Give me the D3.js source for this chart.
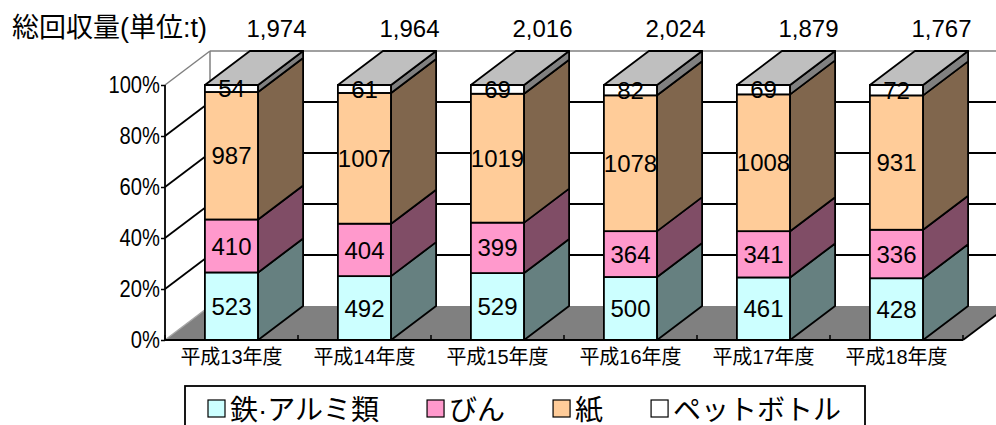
<!DOCTYPE html>
<html>
<head>
<meta charset="utf-8">
<style>
  html, body { margin: 0; padding: 0; background: #fff; }
  svg { display: block; }
  text { font-family: "Liberation Sans", "Noto Sans CJK JP", sans-serif; fill: #000; }
</style>
</head>
<body>
<svg id="chart" width="996" height="425"></svg>
<script src="https://cdn.jsdelivr.net/npm/d3@7"></script>
<script>
// data (tonnes)
var years   = ["平成13年度", "平成14年度", "平成15年度", "平成16年度", "平成17年度", "平成18年度"];
var metal   = [523, 492, 529, 500, 461, 428];
var glass   = [410, 404, 399, 364, 341, 336];
var paper   = [987, 1007, 1019, 1078, 1008, 931];
var pet     = [54, 61, 69, 82, 69, 72];
var seriesNames  = ["鉄·アルミ類", "びん", "紙", "ペットボトル"];
var seriesColors = ["#CCFFFF", "#FF99CC", "#FFCC99", "#FFFFFF"];
var yTicks = [0, 0.2, 0.4, 0.6, 0.8, 1];

var rows = years.map(function(y, i) {
  return {year: y, "鉄·アルミ類": metal[i], "びん": glass[i], "紙": paper[i], "ペットボトル": pet[i]};
});

var svg = d3.select("#chart");

var plotLeft = 165, plotRight = 963, plotTop = 85, plotBottom = 340;
var dx = 45, dy = -34;   // depth of the 3d box

var x = d3.scaleBand().domain(years).range([plotLeft, plotRight]).paddingInner(0.6).paddingOuter(0.3);
var y = d3.scaleLinear().domain([0, 1]).range([plotBottom, plotTop]);
var color = d3.scaleOrdinal().domain(seriesNames).range(seriesColors);

function shade(c, k) {
  var r = d3.rgb(c);
  return d3.rgb(r.r * k, r.g * k, r.b * k).formatHex();
}

var stack = d3.stack().keys(seriesNames).offset(d3.stackOffsetExpand);
var layers = stack(rows);

// walls and floor
var walls = svg.append("g");
walls.append("polygon")
  .attr("points", [[plotLeft + dx, y(1) + dy], [1020, y(1) + dy], [1020, y(0) + dy], [plotLeft + dx, y(0) + dy]].join(" "))
  .attr("fill", "#fff");
walls.append("polygon")
  .attr("points", [[plotLeft, y(0)], [plotRight, y(0)], [plotRight + dx, y(0) + dy], [plotLeft + dx, y(0) + dy]].join(" "))
  .attr("fill", "#808080");
walls.append("line")
  .attr("x1", plotLeft).attr("y1", y(0)).attr("x2", plotLeft + dx).attr("y2", y(0) + dy)
  .attr("stroke", "#a6a6a6").attr("stroke-width", 1.5);
walls.append("line")
  .attr("x1", plotLeft).attr("y1", y(1)).attr("x2", plotLeft + dx).attr("y2", y(1) + dy)
  .attr("stroke", "#808080").attr("stroke-width", 1.5);
walls.append("line")
  .attr("x1", plotLeft + dx).attr("y1", y(1) + dy).attr("x2", 1000).attr("y2", y(1) + dy)
  .attr("stroke", "#808080").attr("stroke-width", 1.5);
walls.append("line")
  .attr("x1", plotLeft + dx).attr("y1", y(1) + dy).attr("x2", plotLeft + dx).attr("y2", y(0) + dy)
  .attr("stroke", "#808080").attr("stroke-width", 1.5);

// gridlines
var grid = svg.append("g").attr("stroke", "#000").attr("stroke-width", 1.8);
yTicks.filter(function(t) { return t > 0 && t < 1; }).forEach(function(t) {
  grid.append("line")
    .attr("x1", plotLeft).attr("y1", y(t)).attr("x2", plotLeft + dx).attr("y2", y(t) + dy);
  grid.append("line")
    .attr("x1", plotLeft + dx).attr("y1", y(t) + dy).attr("x2", 1000).attr("y2", y(t) + dy);
});

// floor front right edge
svg.append("line")
  .attr("x1", plotRight).attr("y1", y(0)).attr("x2", plotRight + dx).attr("y2", y(0) + dy)
  .attr("stroke", "#000").attr("stroke-width", 1.8);

// bars
var bw = x.bandwidth();
years.forEach(function(yr, i) {
  var g = svg.append("g");
  var x0 = x(yr), x1 = x0 + bw;
  layers.forEach(function(layer, li) {
    var d = layer[i];
    var y0 = y(d[0]), y1 = y(d[1]);
    var c = color(layer.key);
    g.append("rect")
      .attr("x", x0).attr("y", y1).attr("width", bw).attr("height", y0 - y1)
      .attr("fill", c).attr("stroke", "#000").attr("stroke-width", 1.8);
    g.append("polygon")
      .attr("points", [[x1, y0], [x1 + dx, y0 + dy], [x1 + dx, y1 + dy], [x1, y1]].join(" "))
      .attr("fill", shade(c, 0.5)).attr("stroke", "#000").attr("stroke-width", 1.8)
      .attr("stroke-linejoin", "round");
    if (li === layers.length - 1) {
      g.append("polygon")
        .attr("points", [[x0, y1], [x1, y1], [x1 + dx, y1 + dy], [x0 + dx, y1 + dy]].join(" "))
        .attr("fill", shade(c, 0.75)).attr("stroke", "#000").attr("stroke-width", 1.8)
        .attr("stroke-linejoin", "round");
    }
  });
  layers.forEach(function(layer) {
    var d = layer[i];
    g.append("text")
      .attr("x", x0 + bw / 2)
      .attr("y", (y(d[0]) + y(d[1])) / 2)
      .attr("dy", "0.36em")
      .attr("text-anchor", "middle")
      .style("font-size", "24px")
      .text(d.data[layer.key]);
  });
});

// axes
var yAxis = d3.axisLeft(y).tickValues(yTicks).tickFormat(d3.format(".0%")).tickSize(4).tickPadding(2);
var ya = svg.append("g").attr("transform", "translate(" + plotLeft + ",0)").call(yAxis);
ya.select(".domain").attr("stroke", "#000").attr("stroke-width", 1.8).attr("d", "M0," + y(1) + "V" + y(0));
ya.selectAll(".tick line").attr("stroke", "#000").attr("stroke-width", 1.5);
ya.selectAll(".tick text")
  .attr("font-family", null).attr("font-size", null)
  .style("font-size", "24px")
  .attr("transform", "scale(0.84,1)");

svg.append("line")
  .attr("x1", plotLeft).attr("y1", y(0)).attr("x2", plotRight).attr("y2", y(0))
  .attr("stroke", "#000").attr("stroke-width", 1.8);
d3.range(years.length + 1).forEach(function(k) {
  var tx = plotLeft + k * x.step();
  svg.append("line")
    .attr("x1", tx).attr("y1", y(0)).attr("x2", tx).attr("y2", y(0) - 5)
    .attr("stroke", "#000").attr("stroke-width", 1.5);
});
svg.append("g").selectAll("text").data(years).enter().append("text")
  .attr("x", function(d) { return x(d) + bw / 2; })
  .attr("y", 364)
  .attr("text-anchor", "middle")
  .style("font-size", "20px")
  .text(function(d) { return d; });

// title and totals
svg.append("text").attr("x", 12).attr("y", 37).style("font-size", "27px").text("総回収量(単位:t)");
var fmt = d3.format(",");
svg.append("g").selectAll("text").data(rows).enter().append("text")
  .attr("x", function(d) { return x(d.year) + bw / 2 + 45; })
  .attr("y", 37)
  .attr("text-anchor", "middle")
  .style("font-size", "24px")
  .text(function(d) { return fmt(d3.sum(seriesNames, function(k) { return d[k]; })); });

// legend
var legend = svg.append("g");
legend.append("rect")
  .attr("x", 185).attr("y", 386).attr("width", 680).attr("height", 60)
  .attr("fill", "#fff").attr("stroke", "#000").attr("stroke-width", 1.8);
var lx = 208;
seriesNames.forEach(function(name) {
  legend.append("rect")
    .attr("x", lx).attr("y", 400).attr("width", 17).attr("height", 17)
    .attr("fill", color(name)).attr("stroke", "#000").attr("stroke-width", 1.2);
  var t = legend.append("text")
    .attr("x", lx + 22).attr("y", 420)
    .style("font-size", "28px")
    .text(name);
  lx += 22 + t.node().getComputedTextLength() + 48;
});
</script>
</body>
</html>
